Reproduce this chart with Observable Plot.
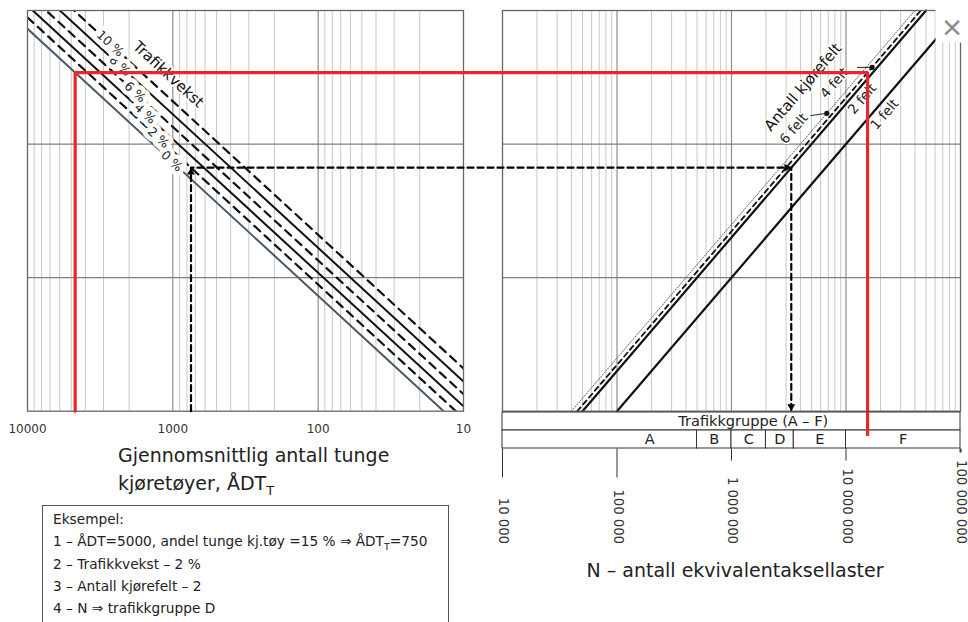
<!DOCTYPE html>
<html>
<head>
<meta charset="utf-8">
<script src="https://cdn.jsdelivr.net/npm/d3@7"></script>
<script src="https://cdn.jsdelivr.net/npm/@observablehq/plot@0.6"></script>
<style>
  html, body { margin: 0; padding: 0; background: #fff; }
  #wrap { position: relative; width: 968px; height: 622px; overflow: hidden; background: #fff; }
  #wrap svg { position: absolute; left: 0; top: 0; background: transparent; }
</style>
</head>
<body>
<div id="wrap"></div>
<script>
// ---------------- data ----------------
const adtTicks = [10000, 1000, 100, 10];
const adtTickLabels = ["10000", "1000", "100", "10"];

const growthRates = [0, 2, 4, 6, 8, 10];                       // Trafikkvekst, %
const growthFactors = [7300, 8870, 10870, 13430, 16700, 20900]; // N (1 felt) per ÅDT_T
const growthLabels = ["0 %", "2 %", "4 %", "6 %", "8 %", "10 %"];

const laneLabels = ["1 felt", "2 felt", "4 felt", "6 felt"];
const laneFactors = [1.0, 0.5, 0.45, 0.40];

const groupNames = ["A", "B", "C", "D", "E", "F"];
const groupBounds = [1e4, 5e5, 1e6, 2e6, 3.5e6, 1e7, 1e8];

const nTicks = [1e4, 1e5, 1e6, 1e7, 1e8];
const nTickLabels = ["10 000", "100 000", "1 000 000", "10 000 000", "100 000 000"];

const exampleAdt = [750, 4700];   // black dashed example, red example
const exampleGrowth = [2, 0];
const exampleLanes = ["2 felt", "4 felt"];

const exampleLines = [
  "Eksempel:",
  "1 – ÅDT=5000, andel tunge kj.tøy =15 % ⇒ ÅDT|T|=750",
  "2 – Trafikkvekst – 2 %",
  "3 – Antall kjørefelt – 2",
  "4 – N ⇒ trafikkgruppe D"
];

// ---------------- layout ----------------
const W = 968, H = 622;
const FONT = "'DejaVu Sans', sans-serif";
const RED = "#e8262b";
const FL = [27, 463], FR = [502, 960], FY = [410.7, 10], STRIP = [410.7, 448.5];

const yScale = {type: "log", domain: [1e5, 1e8], range: FY};
const xLeft = {type: "log", domain: [1e4, 10], range: FL};
const xRight = {type: "log", domain: [1e4, 1e8], range: FR};
const sL = Plot.scale({x: xLeft});
const sR = Plot.scale({x: xRight});
const toRight = adt => sR.invert(sL.apply(adt));

const decY = (FY[0] - FY[1]) / 3, decL = (FL[1] - FL[0]) / 3, decR = (FR[1] - FR[0]) / 4;
const angL = Math.atan(decY / decL) * 180 / Math.PI;
const angR = -Math.atan(decY / decR) * 180 / Math.PI;

const minors = (lo, hi) => d3.range(Math.round(Math.log10(lo)), Math.round(Math.log10(hi)))
  .flatMap(e => d3.range(2, 10).map(k => k * 10 ** e));

const gf = r => growthFactors[growthRates.indexOf(r)];
const lf = n => laneFactors[laneLabels.indexOf(n)];
const exY = exampleAdt.map((a, i) => a * gf(exampleGrowth[i]));
const exN = exY.map((y, i) => y * lf(exampleLanes[i]));

const growthLines = growthRates.flatMap((r, i) => [1e4, 10].map(a => ({rate: r, adt: a, n: growthFactors[i] * a})));
const laneLines = laneFactors.flatMap((f, i) => [1e5, 1e8].map(y => ({lane: laneLabels[i], n: f * y, y})));

function finish(svg) {
  svg.setAttribute("font-family", FONT);
  svg.style.position = "absolute";
  svg.style.left = "0px";
  svg.style.top = "0px";
  svg.style.background = "transparent";
  svg.style.maxWidth = "none";
  return svg;
}

const common = {width: W, height: H, marginTop: FY[1], marginBottom: H - FY[0]};

// ---------------- left panel ----------------
const gLabelAt = [1019, 1258, 1555, 1822, 2310, 2704]; // where each % label sits along its line
const left = Plot.plot({
  ...common,
  marginLeft: FL[0], marginRight: W - FL[1],
  x: {...xLeft, axis: null},
  y: {...yScale, axis: null},
  marks: [
    Plot.ruleX(minors(10, 1e4), {stroke: "#c9c9c9", strokeWidth: 1}),
    Plot.ruleX([1000, 100], {stroke: "#8e8e8e", strokeWidth: 1.2}),
    Plot.ruleY([1e6, 1e7], {stroke: "#7f7f7f", strokeWidth: 1.2}),
    Plot.line(growthLines.filter(d => d.rate === 0), {x: "adt", y: "n", stroke: "#4b5966", strokeWidth: 2, clip: true}),
    Plot.line(growthLines.filter(d => d.rate === 4 || d.rate === 8), {x: "adt", y: "n", z: "rate", stroke: "#111", strokeWidth: 2, clip: true}),
    Plot.line(growthLines.filter(d => d.rate === 2 || d.rate === 6 || d.rate === 10), {x: "adt", y: "n", z: "rate", stroke: "#111", strokeWidth: 2.2, strokeDasharray: "8,6", clip: true}),
    Plot.text(growthLabels, {
      x: (d, i) => gLabelAt[i], y: (d, i) => gLabelAt[i] * growthFactors[i],
      rotate: angL, fontSize: 12.5, fill: "#222", stroke: "white", strokeWidth: 9, paintOrder: "stroke"
    }),
    Plot.text(["Trafikkvekst"], {x: () => 1074, y: () => 3.32e7, rotate: angL, fontSize: 15, fill: "#111", stroke: "white", strokeWidth: 4, paintOrder: "stroke"}),
    Plot.frame({stroke: "#666", strokeWidth: 1.3}),
    Plot.text(adtTicks, {x: d => d, text: (d, i) => adtTickLabels[i], frameAnchor: "bottom", dy: 22, fontSize: 12, fill: "#333"})
  ]
});

// ---------------- right panel ----------------
const right = Plot.plot({
  ...common,
  marginLeft: FR[0], marginRight: W - FR[1],
  x: {...xRight, axis: null},
  y: {...yScale, axis: null},
  marks: [
    Plot.ruleX(minors(1e4, 1e8), {stroke: "#c9c9c9", strokeWidth: 1}),
    Plot.ruleX([1e5, 1e6, 1e7], {stroke: "#8e8e8e", strokeWidth: 1.2}),
    Plot.ruleY([1e6, 1e7], {stroke: "#7f7f7f", strokeWidth: 1.2}),
    Plot.line(laneLines.filter(d => d.lane === "1 felt" || d.lane === "2 felt"), {x: "n", y: "y", z: "lane", stroke: "#111", strokeWidth: 2.2}),
    Plot.line(laneLines.filter(d => d.lane === "4 felt"), {x: "n", y: "y", stroke: "#111", strokeWidth: 1.8, strokeDasharray: "5,4"}),
    Plot.line(laneLines.filter(d => d.lane === "6 felt"), {x: "n", y: "y", stroke: "#5a6570", strokeWidth: 1, strokeDasharray: "1.2,1.6"}),
    // leaders to 4 felt and 6 felt
    Plot.link([{y: 3.75e7, f: 0.45, k: 0.74}, {y: 1.70e7, f: 0.40, k: 0.72}], {
      x1: d => d.f * d.y * d.k, y1: d => d.y * (d.f === 0.40 ? 0.96 : 1), x2: d => d.f * d.y, y2: "y", stroke: "#222", strokeWidth: 1
    }),
    Plot.dot([{y: 3.75e7, f: 0.45}, {y: 1.70e7, f: 0.40}], {x: d => d.f * d.y, y: "y", r: 2.6, fill: "#111"}),
    Plot.text(laneLabels, {
      x: (d, i) => [2.17e7, 1.385e7, 7.93e6, 3.5e6][i], y: (d, i) => [1.666e7, 2.18e7, 2.866e7, 1.302e7][i],
      rotate: angR, fontSize: 13.5, fill: "#222", stroke: "white", strokeWidth: 3, paintOrder: "stroke"
    }),
    Plot.text(["Antall kjørefelt"], {x: () => 4.21e6, y: () => 2.667e7, rotate: angR, fontSize: 15, fill: "#111", stroke: "white", strokeWidth: 3, paintOrder: "stroke"}),
    Plot.frame({stroke: "#666", strokeWidth: 1.3}),
    // black dashed example
    Plot.line([
      {n: toRight(exampleAdt[0]), y: 1e5}, {n: toRight(exampleAdt[0]), y: exY[0]},
      {n: exN[0], y: exY[0]}, {n: exN[0], y: 1e5}
    ], {x: "n", y: "y", stroke: "#000", strokeWidth: 2.2, strokeDasharray: "6,4", curve: "linear"}),
    Plot.dot([0], {x: () => toRight(exampleAdt[0]), y: () => exY[0], symbol: "triangle", r: 2.9, fill: "#000", dy: 4.6}),
    Plot.dot([0], {x: () => exN[0], y: () => exY[0], symbol: "triangle", r: 2.9, fill: "#000", rotate: 90, dx: -4.6}),
    Plot.dot([0], {x: () => exN[0], y: () => 1e5, symbol: "triangle", r: 2.9, fill: "#000", rotate: 180, dy: -4.6}),
    // red example
    Plot.line([
      {n: toRight(exampleAdt[1]), y: 1e5}, {n: toRight(exampleAdt[1]), y: exY[1]},
      {n: exN[1], y: exY[1]}, {n: exN[1], y: 1e5}
    ], {x: "n", y: "y", stroke: RED, strokeWidth: 3.2, strokeLinejoin: "miter"})
  ]
});

// ---------------- Trafikkgruppe strip + N axis ----------------
const strip = Plot.plot({
  width: W, height: H,
  marginLeft: FR[0], marginRight: W - FR[1], marginTop: STRIP[0], marginBottom: H - STRIP[1],
  x: {...xRight},
  y: {type: "band", domain: ["head", "groups"], range: STRIP, padding: 0, axis: null},
  marks: [
    Plot.barX([0], {x1: () => 1e4, x2: () => 1e8, y: () => "head", fill: "white", stroke: "#333", strokeWidth: 1}),
    Plot.barX(groupNames, {x1: (d, i) => groupBounds[i], x2: (d, i) => groupBounds[i + 1], y: () => "groups", fill: "white", stroke: "#333", strokeWidth: 1}),
    Plot.text(["Trafikkgruppe (A – F)"], {x: () => 1.55e6, y: () => "head", fontSize: 14.5, fill: "#222"}),
    Plot.text(groupNames, {x: (d, i) => i === 0 ? 1.93e5 : Math.sqrt(groupBounds[i] * groupBounds[i + 1]), y: () => "groups", fontSize: 14.5, fill: "#222"}),
    Plot.tickX([exN[1]], {x: d => d, y: () => "head", stroke: RED, strokeWidth: 3.2, insetBottom: -6}),
    Plot.axisX([1e4, 1e5], {anchor: "bottom", tickSize: 29, fill: "none", stroke: "#333", label: null}),
    Plot.axisX([1e6, 1e7], {anchor: "bottom", tickSize: 12, fill: "none", stroke: "#333", label: null}),
    Plot.axisX([1e8], {anchor: "bottom", tickSize: 4, fill: "none", stroke: "#333", strokeWidth: 2, label: null}),
    Plot.text(nTicks, {x: d => d, text: (d, i) => nTickLabels[i], frameAnchor: "bottom", dy: 95, dx: -3.2, rotate: 90, textAnchor: "end", fontSize: 13.2, fill: "#333"})
  ]
});

const wrap = document.getElementById("wrap");
wrap.appendChild(finish(left));
wrap.appendChild(finish(right));
wrap.appendChild(finish(strip));

// ---------------- titles, example box ----------------
const ann = d3.create("svg").attr("width", W).attr("height", H).attr("font-family", FONT)
  .style("position", "absolute").style("left", "0px").style("top", "0px").style("background", "transparent");

ann.append("text").attr("x", 118).attr("y", 462).attr("font-size", 19).attr("fill", "#222").text("Gjennomsnittlig antall tunge");
const t2 = ann.append("text").attr("x", 118).attr("y", 490).attr("font-size", 19).attr("fill", "#222");
t2.append("tspan").text("kjøretøyer, ÅDT");
t2.append("tspan").attr("dy", 5).attr("font-size", 13).text("T");

ann.append("text").attr("x", 735).attr("y", 577).attr("text-anchor", "middle").attr("font-size", 19).attr("fill", "#222")
  .text("N – antall ekvivalentaksellaster");

ann.append("rect").attr("x", 42.5).attr("y", 505.5).attr("width", 406).attr("height", 140)
  .attr("fill", "white").attr("stroke", "#555").attr("stroke-width", 1);
exampleLines.forEach((line, i) => {
  const t = ann.append("text").attr("x", 53).attr("y", 524 + i * 22.35).attr("font-size", 13.7).attr("fill", "#222");
  const parts = line.split("|");
  parts.forEach((p, j) => {
    const ts = t.append("tspan").text(p);
    if (j === 1) ts.attr("dy", 4).attr("font-size", 9.5);
    if (j === 2) ts.attr("dy", -4);
  });
});

// close button overlay (as in the reference screenshot)
ann.append("rect").attr("x", 935.5).attr("y", 0).attr("width", 33).attr("height", 42.5).attr("fill", "white");
ann.append("text").attr("x", 952).attr("y", 36).attr("text-anchor", "middle").attr("font-size", 27).attr("fill", "#8a8a8a").text("×");

wrap.appendChild(ann.node());
</script>
</body>
</html>
